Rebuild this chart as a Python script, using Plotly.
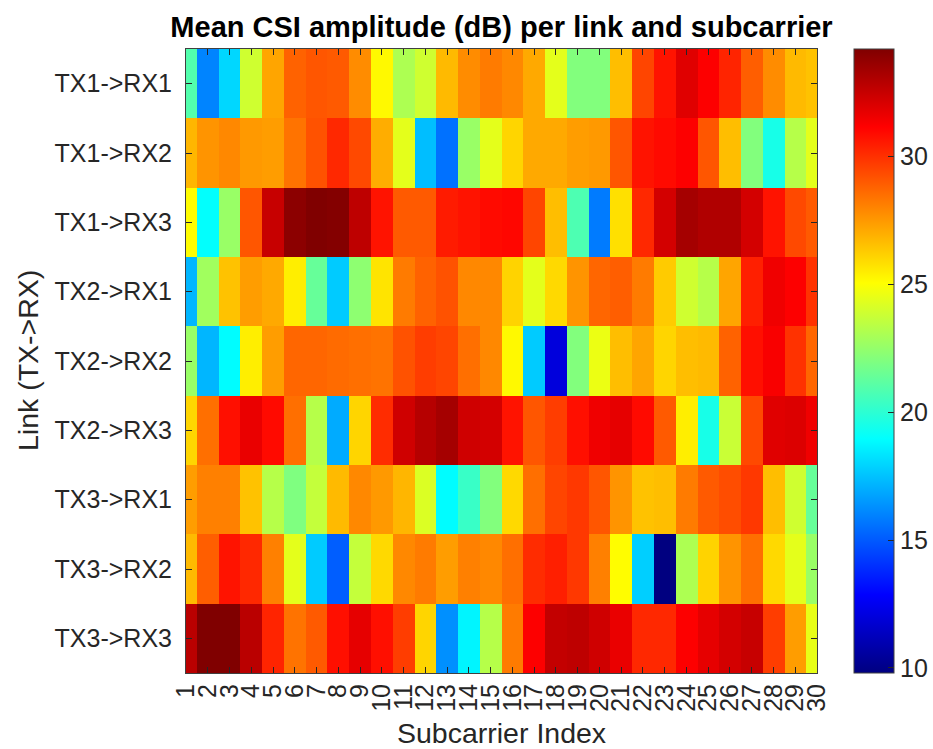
import plotly.graph_objects as go

# Link labels (rows) and subcarrier indices (columns)
links = ["TX1->RX1", "TX1->RX2", "TX1->RX3",
         "TX2->RX1", "TX2->RX2", "TX2->RX3",
         "TX3->RX1", "TX3->RX2", "TX3->RX3"]
subcarriers = list(range(1, 31))
cbar_ticks = [10, 15, 20, 25, 30]

# Mean CSI amplitude (dB) per link, one value per subcarrier
tx1_rx1 = [20.9, 16.0, 18.0, 23.9, 27.2, 28.8, 29.1, 29.0, 27.8, 25.2,
           23.1, 23.9, 26.7, 27.8, 28.2, 27.9, 27.1, 24.4, 22.05, 22.05,
           26.6, 29.5, 30.7, 31.9, 31.2, 30.3, 28.9, 27.8, 26.7, 26.5]
tx1_rx2 = [26.8, 27.6, 27.9, 27.5, 27.4, 28.4, 29.2, 30.2, 29.4, 27.0,
           24.4, 17.4, 15.55, 22.6, 24.4, 26.06, 27.1, 27.1, 27.4, 27.5,
           29.1, 30.7, 30.9, 31.2, 29.1, 26.6, 22.05, 19.5, 23.3, 24.4]
tx1_rx3 = [25.1, 19.0, 22.6, 29.1, 32.5, 33.9, 34.2, 34.1, 32.7, 30.7,
           29.0, 29.0, 30.5, 30.7, 30.9, 31.0, 29.5, 26.6, 20.8, 15.8,
           25.8, 30.2, 32.2, 33.3, 33.05, 33.05, 32.2, 30.7, 29.4, 29.0]
tx2_rx1 = [17.2, 22.8, 26.5, 27.4, 27.1, 25.45, 21.4, 17.7, 22.35, 25.7,
           28.2, 28.8, 29.2, 27.9, 27.9, 26.1, 24.4, 25.95, 27.6, 28.7,
           28.9, 28.2, 26.3, 23.9, 23.3, 27.2, 30.4, 31.5, 31.2, 29.95]
tx2_rx2 = [22.6, 17.2, 18.9, 25.45, 27.4, 28.7, 28.7, 28.6, 28.5, 28.4,
           29.2, 29.7, 29.5, 28.5, 27.9, 25.2, 17.7, 12.0, 22.05, 24.6,
           26.6, 27.2, 26.06, 26.6, 26.7, 28.8, 30.8, 31.3, 29.95, 28.7]
tx2_rx3 = [26.06, 28.5, 30.8, 31.65, 30.9, 28.5, 23.3, 16.95, 26.06, 30.1,
           32.3, 32.9, 33.3, 32.3, 32.2, 30.7, 29.1, 29.7, 30.8, 31.5,
           31.75, 30.9, 29.0, 25.45, 19.5, 23.75, 29.4, 31.9, 32.0, 31.5]
tx3_rx1 = [27.4, 28.1, 28.1, 26.5, 23.3, 22.0, 23.65, 26.7, 27.9, 27.5,
           26.8, 24.2, 18.9, 20.3, 22.05, 25.95, 28.5, 29.5, 29.8, 29.1,
           27.6, 26.5, 26.6, 28.2, 29.0, 29.3, 29.8, 26.6, 23.9, 21.4]
tx3_rx2 = [26.7, 28.9, 30.7, 30.2, 28.1, 24.4, 17.7, 15.1, 23.65, 25.95,
           27.9, 28.2, 27.4, 28.1, 27.9, 28.5, 30.1, 30.4, 29.8, 28.1,
           25.1, 17.8, 9.8, 23.1, 26.1, 27.6, 28.5, 25.95, 24.4, 22.6]
tx3_rx3 = [32.8, 34.2, 34.2, 32.8, 30.3, 28.4, 29.0, 30.8, 31.75, 30.8,
           29.7, 26.06, 16.3, 18.7, 23.3, 28.2, 31.2, 32.6, 32.7, 32.3,
           31.65, 30.2, 30.2, 31.2, 31.75, 32.2, 32.5, 29.7, 27.4, 24.5]

amplitude = [tx1_rx1, tx1_rx2, tx1_rx3,
             tx2_rx1, tx2_rx2, tx2_rx3,
             tx3_rx1, tx3_rx2, tx3_rx3]

# MATLAB-style "jet" colormap
jet = [
    [0.0, "rgb(0,0,128)"],
    [0.125, "rgb(0,0,255)"],
    [0.375, "rgb(0,255,255)"],
    [0.625, "rgb(255,255,0)"],
    [0.875, "rgb(255,0,0)"],
    [1.0, "rgb(128,0,0)"],
]

W, H = 933, 749
L, R, T, B = 186, 817, 49, 673
pw, ph = R - L, B - T

FONT = "Liberation Sans, Arial, Helvetica, sans-serif"
TXT = "#262626"
AXC = "#404040"

row_pos = list(range(1, len(links) + 1))
zmin = min(min(r) for r in amplitude)
zmax = max(max(r) for r in amplitude)

fig = go.Figure(go.Heatmap(
    z=amplitude,
    x=subcarriers,
    y=row_pos,
    zmin=zmin, zmax=zmax,
    colorscale=jet,
    colorbar=dict(
        x=(854 - L) / pw, xanchor="left", xpad=0,
        y=0.5, yanchor="middle", ypad=0,
        len=1, lenmode="fraction",
        thickness=40, thicknessmode="pixels",
        outlinecolor=AXC, outlinewidth=1,
        ticks="inside", ticklen=6, tickcolor=TXT,
        tickvals=cbar_ticks,
        tickfont=dict(family=FONT, size=25, color=TXT),
    ),
    hovertemplate="%{y}<br>Subcarrier %{x}<br>%{z:.2f} dB<extra></extra>",
))

fig.update_layout(
    width=W, height=H,
    margin=dict(l=L, r=W - R, t=T, b=H - B, autoexpand=False),
    paper_bgcolor="white", plot_bgcolor="white",
    title=dict(
        text="<b>Mean CSI amplitude (dB) per link and subcarrier</b>",
        x=0.5, xref="paper", xanchor="center",
        y=1 - 27 / H, yref="container", yanchor="middle",
        font=dict(family=FONT, size=29, color="black"),
    ),
    xaxis=dict(
        range=[1, 30],
        tickmode="array", tickvals=subcarriers,
        ticktext=[str(s) for s in subcarriers],
        tickangle=-90,
        ticks="inside", ticklen=6, tickcolor=TXT,
        showline=True, linecolor=AXC, linewidth=1, mirror="ticks",
        showgrid=False, zeroline=False,
        tickfont=dict(family=FONT, size=25, color=TXT),
    ),
    yaxis=dict(
        range=[len(links) + 0.5, 0.5],
        tickmode="array", tickvals=row_pos, ticktext=links,
        ticks="inside", ticklen=6, tickcolor=TXT,
        showline=True, linecolor=AXC, linewidth=1, mirror="ticks",
        showgrid=False, zeroline=False,
        ticklabelstandoff=8,
        tickfont=dict(family=FONT, size=25, color=TXT),
    ),
    annotations=[
        dict(text="Subcarrier Index", xref="paper", yref="paper",
             x=0.5, y=-(733 - B) / ph, xanchor="center", yanchor="middle",
             showarrow=False, font=dict(family=FONT, size=28.5, color=TXT)),
        dict(text="Link (TX->RX)", xref="paper", yref="paper",
             x=-(L - 28) / pw, y=0.5, xanchor="center", yanchor="middle",
             textangle=-90, showarrow=False,
             font=dict(family=FONT, size=28.5, color=TXT)),
    ],
)

fig.write_html("out.html")
